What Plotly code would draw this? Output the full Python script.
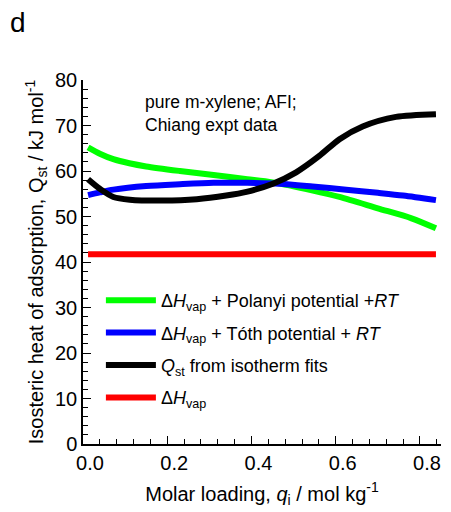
import plotly.graph_objects as go

# ---- data ----
x_green = [0.012, 0.04, 0.072, 0.11, 0.15, 0.23, 0.31, 0.39, 0.45, 0.546, 0.609, 0.70, 0.78, 0.838]
y_green = [65.2, 63.8, 62.6, 61.7, 61.0, 60.0, 59.1, 58.2, 57.5, 55.7, 54.3, 51.8, 49.6, 47.4]

x_blue = [0.012, 0.04, 0.072, 0.15, 0.23, 0.31, 0.39, 0.467, 0.545, 0.625, 0.70, 0.76, 0.838]
y_blue = [54.7, 55.3, 55.9, 56.7, 57.1, 57.4, 57.4, 57.2, 56.6, 55.9, 55.2, 54.6, 53.6]

x_black = [0.012, 0.04, 0.072, 0.111, 0.19, 0.27, 0.34, 0.388, 0.451, 0.506, 0.561, 0.609, 0.664, 0.743, 0.838]
y_black = [58.2, 56.1, 54.3, 53.7, 53.5, 53.8, 54.6, 55.4, 57.2, 59.7, 63.3, 67.0, 69.8, 71.9, 72.5]

x_red = [0.012, 0.838]
y_red = [41.7, 41.7]

names = [
    "Δ<i>H</i><sub>vap</sub> + Polanyi potential +<i>RT</i>",
    "Δ<i>H</i><sub>vap</sub> + Tóth potential + <i>RT</i>",
    "<i>Q</i><sub>st</sub> from isotherm fits",
    "Δ<i>H</i><sub>vap</sub>",
]
colors = ["#00ff00", "#0000ff", "#000000", "#ff0000"]

FONT = "Arial, Liberation Sans, sans-serif"

fig = go.Figure()
series = [(x_green, y_green), (x_blue, y_blue), (x_black, y_black), (x_red, y_red)]
draw_order = [3, 0, 1, 2]
for i in draw_order:
    xs, ys = series[i]
    fig.add_trace(go.Scatter(
        x=xs, y=ys, mode="lines", name=names[i],
        line=dict(color=colors[i], width=6, shape="spline", smoothing=0.8),
        legendrank=i + 1, legendgroup=f"g{i}",
    ))

fig.update_layout(
    width=451, height=512,
    margin=dict(l=83, r=10, t=80, b=64),
    paper_bgcolor="white", plot_bgcolor="white",
    font=dict(family=FONT, size=20, color="black"),
    showlegend=True,
    legend=dict(
        x=0.05, y=0.445, xanchor="left", yanchor="top",
        bgcolor="rgba(0,0,0,0)", font=dict(size=18),
        tracegroupgap=6, itemwidth=50,
    ),
    xaxis=dict(
        range=[0, 0.85], tickvals=[0, 0.2, 0.4, 0.6, 0.8],
        ticktext=["0.0", "0.2", "0.4", "0.6", "0.8"],
        ticks="inside", ticklen=8, tickwidth=1, tickcolor="black",
        minor=dict(dtick=0.04, tick0=0, ticks="inside", ticklen=5, tickcolor="black"),
        showline=True, linecolor="black", linewidth=1.5,
        showgrid=False, zeroline=False, ticklabelshift=7,
        tickfont=dict(size=20),
        title=dict(text="Molar loading, <i>q</i><sub>i</sub> / mol kg<sup>-1</sup>",
                   font=dict(size=20), standoff=14),
    ),
    yaxis=dict(
        range=[0, 80], dtick=10,
        ticks="inside", ticklen=8, tickwidth=1, tickcolor="black",
        minor=dict(dtick=2, ticks="inside", ticklen=5, tickcolor="black"),
        showline=True, linecolor="black", linewidth=1.5,
        showgrid=False, zeroline=False,
        tickfont=dict(size=20),
        title=dict(text="Isosteric heat of adsorption, Q<sub>st</sub> / kJ mol<sup>-1</sup>",
                   font=dict(size=20), standoff=6),
    ),
    annotations=[
        dict(text="pure m-xylene; AFI;<br>Chiang expt data", xref="paper", yref="paper",
             x=0.168, y=0.972, xanchor="left", yanchor="top", showarrow=False,
             align="left", font=dict(size=17.5)),
        dict(text="d", xref="paper", yref="paper", x=-0.21, y=1.205, xanchor="left",
             yanchor="top", showarrow=False, font=dict(size=28)),
    ],
)

fig.write_html("out.html")
